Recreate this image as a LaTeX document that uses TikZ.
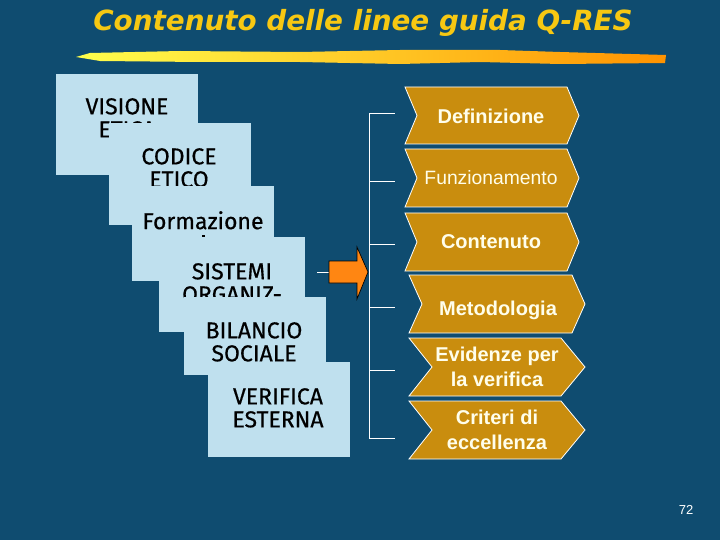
\documentclass[tikz,border=0pt]{standalone}
\usepackage{fontspec}
\setmainfont{Liberation Sans}
\newfontfamily\comicf[FakeBold=0.5]{Fira Sans}
\newfontfamily\titlef{DejaVu Sans}
\usetikzlibrary{calc}
\definecolor{bgc}{HTML}{0F4C70}
\definecolor{boxc}{HTML}{BFE0EE}
\definecolor{chevc}{HTML}{C98D0E}
\definecolor{titc}{HTML}{F7C812}
\definecolor{arrc}{HTML}{FF8612}
\tikzset{
 x=1pt,y=-1pt,
 card/.style={fill=boxc,draw=none},
 cardtext/.style={font=\comicf\fontsize{23}{23}\selectfont,text=black,align=center,inner sep=0pt,anchor=north},
 chev/.style={fill=chevc,draw=white,line width=0.8pt,line join=miter},
 chevtext/.style={font=\fontsize{20}{25}\bfseries\selectfont,text=white!92!yellow,align=center,inner sep=0pt},
 wire/.style={draw=white,line width=0.8pt},
}
\begin{document}
\begin{tikzpicture}
\useasboundingbox (0,0) rectangle (720,540);
\fill[bgc] (0,0) rectangle (720,540);
% title and brush stroke
\node[font=\titlef\fontsize{27.8}{32}\bfseries\itshape\selectfont,text=titc,inner sep=0pt] (title) at (363,23) {Contenuto delle linee guida Q-RES};
\shade[left color=yellow!70!white,middle color=titc,right color=orange!85!yellow]
 (76,57) -- (90,53) -- (180,51) -- (300,52) -- (400,50) -- (500,50) -- (560,52) -- (666,55) -- (665,63) -- (560,64) -- (480,62) -- (400,64) -- (300,62) -- (200,62) -- (100,61) -- cycle;
% stacked cards
\fill[card] (56,74) rectangle (198,175);
\node[cardtext] (t1) at (127,98) {VISIONE\\ETICA};
\fill[card] (109,123) rectangle (251,225);
\node[cardtext] (t2) at (179,148) {CODICE\\ETICO};
\fill[card] (132,186) rectangle (274,281);
\node[cardtext] (t3) at (203,211) {Formazione};
\fill[black] (202,235) rectangle (205,237);
\fill[card] (159,237) rectangle (305,332);
\node[cardtext] (t4) at (232,263) {SISTEMI\\ORGANIZ-};
\fill[card] (184,297) rectangle (326,375);
\node[cardtext] (t5) at (254,322) {BILANCIO\\SOCIALE};
\fill[card] (208,362) rectangle (350,457);
\node[cardtext] (t6) at (278,388) {VERIFICA\\ESTERNA};
% arrow
\coordinate (astart) at (317,272);
\coordinate (abase) at (329,272);
\draw[wire] (astart) -- (abase);
\draw[fill=arrc,draw=black,line width=0.7pt,line join=miter] (329,261) -- (357,261) -- (357,247) -- (368,272) -- (357,299) -- (357,283) -- (329,283) -- cycle;
% chevrons
\newcommand{\chevron}[8]{%
 \draw[chev] (#2,#4) -- (#5,#4) -- (#6,{(#4+#7)/2}) -- (#5,#7) -- (#2,#7) -- (#3,{(#4+#7)/2}) -- cycle;
 \node[chevtext] (#1) at (#8) {};
}
\chevron{c1}{405}{417}{87}{567}{579}{144}{491,116}
\chevron{c2}{405}{417}{149}{567}{579}{207}{491,178}
\chevron{c3}{405}{417}{213}{567}{579}{271}{491,242}
\chevron{c4}{409}{422}{275}{572}{585}{333}{498,310}
\chevron{c5}{409}{432}{338}{561}{585}{396}{497,367}
\chevron{c6}{409}{432}{401}{561}{585}{459}{497,430}
\node[chevtext] at (c1) {Definizione};
\node[chevtext,font=\fontsize{19.3}{22}\selectfont] at (c2) {Funzionamento};
\node[chevtext] at (c3) {Contenuto};
\node[chevtext] at (c4) {Metodologia};
\node[chevtext] at (c5) {Evidenze per\\la verifica};
\node[chevtext] at (c6) {Criteri di\\eccellenza};
% bracket
\foreach \n/\yy in {1/113.5,2/181,3/244,4/307,5/370,6/438}{
 \coordinate (ba\n) at (369,\yy);
 \coordinate (bb\n) at (395,\yy);
 \draw[wire] (ba\n) -- (bb\n);
}
\draw[wire] (ba1) -- (ba6);
\node[font=\fontsize{13}{15}\selectfont,text=white,inner sep=0pt] (pg) at (686,510) {72};
\end{tikzpicture}
\end{document}
